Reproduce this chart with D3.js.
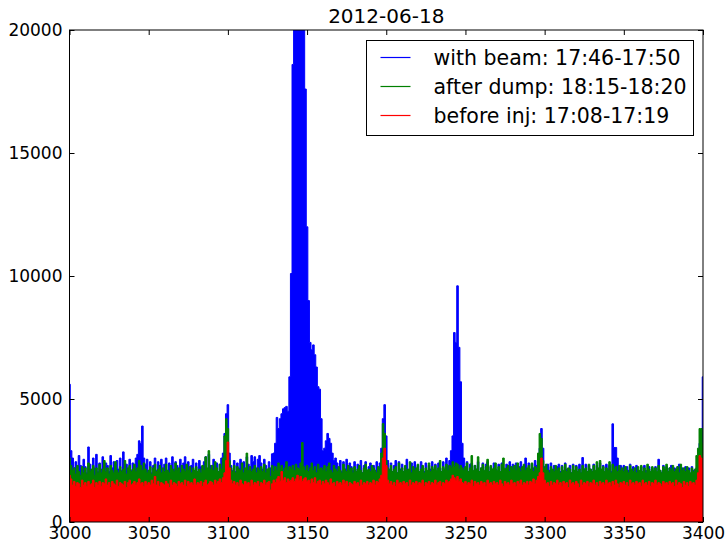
<!DOCTYPE html>
<html>
<head>
<meta charset="utf-8">
<script src="https://cdn.jsdelivr.net/npm/d3@7"></script>
<style>
    body { margin: 0; background: #fff; }
    svg { display: block; font-family: 'DejaVu Sans', sans-serif; }
</style>
</head>
<body>
<div id="chart"></div>
<script>
// channel range shown on the x axis
const xStart = 3000;
const xEnd = 3400;

const xTicks = [3000, 3050, 3100, 3150, 3200, 3250, 3300, 3350, 3400];
const yTicks = [0, 5000, 10000, 15000, 20000];

const seriesNames = ['with beam: 17:46-17:50', 'after dump: 18:15-18:20', 'before inj: 17:08-17:19'];
const seriesColors = ['#0000ff', '#008000', '#ff0000'];

// counts per channel, 3000..3400
const withBeam = [
    5600, 2900, 2600, 2200, 2450, 2050, 2700, 2300, 2100, 2550,
    2250, 2000, 3050, 2350, 2100, 2600, 2200, 2750, 2050, 2400,
    2150, 2650, 2000, 2400, 2300, 2050, 2700, 2200, 2450, 2000,
    2500, 2150, 2600, 2100, 2850, 2050, 2350, 2200, 2550, 2100,
    2400, 2150, 2600, 2750, 3300, 3200, 3900, 2600, 2350, 2550,
    2100, 2450, 2000, 2300, 2600, 2100, 2450, 2050, 2550, 2000,
    2350, 2600, 2100, 2400, 2000, 2650, 2150, 2450, 2300, 2050,
    2550, 2100, 2400, 2650, 2150, 2450, 2000, 2300, 2550, 2100,
    2400, 2050, 2500, 2250, 2000, 2450, 2650, 2150, 2750, 2300,
    2200, 2550, 2100, 2400, 2050, 2350, 2600, 2800, 3600, 4400,
    4770, 2800, 2300, 2100, 2500, 2050, 2400, 2200, 2550, 2100,
    2450, 2050, 2650, 2350, 2100, 2700, 2450, 2650, 2200, 2550,
    2700, 2400, 2150, 2550, 2300, 2100, 2450, 2200, 2770, 2800,
    3200, 4250, 3800, 4200, 4400, 4600, 4650, 4700, 4500, 5900,
    10100, 18600, 25000, 30000, 35000, 32000, 30000, 28000, 26000, 17600,
    12000, 9000, 7300, 7000, 7200, 6800, 6300, 5500, 5400, 4200,
    2900, 3000, 3300, 3600, 3400, 3200, 2800, 2500, 2600, 2400,
    2200, 2500, 2050, 2450, 2150, 2550, 2000, 2400, 2250, 2100,
    2450, 2050, 2350, 2150, 2500, 2000, 2300, 2450, 2100, 2250,
    2400, 2050, 2300, 2100, 2450, 2200, 2400, 3000, 4200, 4770,
    3500, 2500, 2150, 2400, 2050, 2300, 2500, 2000, 2450, 2150,
    2350, 2050, 2250, 2550, 2100, 2000, 2400, 2150, 2450, 2050,
    2300, 2000, 2450, 2150, 2050, 2400, 2000, 2300, 2150, 2450,
    2050, 2350, 2000, 2400, 2200, 2050, 2450, 2150, 2600, 2300,
    2500, 2900, 3500, 7700, 7300, 9600, 7100, 5700, 3200, 2600,
    2150, 2450, 2050, 2350, 2400, 2000, 2300, 2150, 2450, 2050,
    2200, 2400, 2000, 2350, 2450, 2050, 2250, 2000, 2400, 2150,
    2050, 2350, 2000, 2400, 2200, 2050, 2350, 2000, 2450, 2150,
    2350, 2000, 2400, 2100, 2250, 2450, 2000, 2300, 2600, 2150,
    2400, 2100, 2350, 2200, 2500, 2300, 2700, 3000, 3800, 3000,
    2250, 2050, 2350, 2100, 2400, 2000, 2300, 2100, 2250, 2350,
    2050, 2300, 2000, 2400, 2150, 2050, 2300, 2000, 2350, 2100,
    2300, 2050, 2350, 2000, 2620, 2150, 2350, 2050, 2300, 2150,
    2050, 2350, 2000, 2300, 2150, 2400, 2050, 2300, 2000, 2350,
    2150, 2300, 2050, 3990, 3030, 3030, 2600, 2150, 2300, 2050,
    2300, 2000, 2250, 2100, 2350, 2000, 2250, 1950, 2300, 2100,
    2000, 2250, 1950, 2300, 2100, 2000, 2250, 1950, 2200, 2050,
    2250, 2000, 2550, 2100, 2000, 2300, 1950, 2250, 2050, 2200,
    2300, 2000, 2200, 1950, 2250, 2350, 2050, 2200, 1950, 2250,
    2050, 2200, 1950, 2250, 2100, 2000, 2200, 2300, 3200, 3700,
    5900
];

const afterDump = [
    2600, 2300, 2100, 2200, 1950, 2300, 2050, 1900, 2250, 2000,
    2200, 1950, 2400, 2050, 2150, 2300, 1900, 2200, 2000, 2350,
    2000, 2150, 2500, 2050, 2200, 1950, 2300, 2100, 2000, 2450,
    2100, 2000, 2250, 2050, 2150, 2500, 1950, 2200, 2300, 2050,
    2150, 2350, 2050, 2200, 2500, 2300, 2100, 2400, 2150, 2000,
    2100, 2250, 1950, 2200, 2350, 2050, 2150, 2300, 2000, 2200,
    2050, 2350, 2100, 2000, 2300, 2150, 2050, 2400, 2100, 2200,
    2000, 2300, 2150, 2050, 2350, 2100, 2250, 2000, 2200, 2100,
    2250, 2050, 2150, 2000, 2300, 2100, 2650, 2200, 2900, 2150,
    2300, 2100, 2450, 2200, 2050, 2350, 2150, 2600, 3500, 4200,
    3800, 2500, 2200, 2050, 2300, 2000, 2250, 2150, 2100, 2400,
    2000, 2200, 2800, 2100, 2250, 2050, 2150, 2300, 2000, 2200,
    2100, 2250, 2050, 2350, 2000, 2150, 2200, 1850, 2300, 2050,
    2250, 2100, 2400, 2150, 2300, 2050, 2200, 2450, 2100, 2250,
    2150, 2300, 2100, 2350, 2200, 2150, 2400, 3230, 2250, 2100,
    2300, 2050, 2200, 2400, 2100, 2250, 2000, 2350, 2150, 2200,
    2100, 2300, 2050, 2250, 2400, 2100, 2000, 2300, 2150, 2050,
    2250, 2100, 2000, 2350, 2150, 2050, 2300, 2100, 2200, 2000,
    2250, 2050, 2150, 2300, 2100, 2000, 2200, 2350, 2100, 2150,
    2050, 2300, 2200, 2100, 2000, 2250, 2150, 2800, 4000, 3600,
    2500, 2200, 2100, 2300, 2050, 2150, 2250, 2000, 2400, 2100,
    2200, 2050, 2300, 2100, 2150, 2450, 2000, 2250, 2100, 2200,
    2350, 2050, 2150, 2300, 2000, 2200, 2100, 2400, 2050, 2250,
    2150, 2300, 2100, 2200, 2500, 2050, 2250, 2150, 2350, 2100,
    2300, 2200, 2450, 2250, 2400, 2350, 2150, 2300, 2200, 2100,
    2250, 2400, 2050, 2200, 2700, 2100, 2300, 2150, 2650, 2050,
    2200, 2350, 2100, 2250, 2550, 2050, 2300, 2150, 2200, 2400,
    2100, 2250, 2050, 2350, 2600, 2150, 2200, 2300, 2050, 2250,
    2150, 2300, 2100, 2400, 2200, 2050, 2250, 2350, 2100, 2200,
    2300, 2150, 2400, 2050, 2250, 2200, 2800, 3600, 3400, 2500,
    2200, 2350, 2100, 2000, 2250, 2150, 2050, 2300, 2100, 2200,
    2000, 2250, 2100, 2350, 2050, 2200, 2150, 2000, 2300, 2100,
    2250, 2050, 2150, 2000, 2300, 2100, 2200, 2050, 2350, 2150,
    2050, 2300, 2100, 2450, 2200, 2500, 2150, 2250, 2050, 2200,
    2100, 2450, 2000, 2350, 2150, 2250, 2050, 2300, 2100, 2200,
    2050, 2250, 2100, 2000, 2300, 2150, 2050, 2200, 2000, 2250,
    2100, 2300, 2050, 2200, 2000, 2350, 2150, 2050, 2250, 2100,
    2200, 2050, 2300, 2100, 2000, 2250, 2150, 2350, 2050, 2200,
    2100, 2300, 2050, 2150, 2250, 2000, 2350, 2100, 2200, 2050,
    2250, 2100, 2000, 2200, 2050, 2150, 2700, 3000, 3800, 3800,
    3200
];

const beforeInj = [
    1900, 1750, 1500, 1650, 1450, 1600, 1550, 1400, 1700, 1500,
    1600, 1450, 1650, 1500, 1550, 1700, 1400, 1600, 1500, 1650,
    1450, 1600, 1550, 1750, 1500, 1600, 1400, 1650, 1550, 1500,
    1700, 1450, 1600, 1550, 1500, 1650, 1400, 1600, 1700, 1500,
    1550, 1650, 1500, 1600, 1750, 1550, 1600, 1450, 1650, 1500,
    1600, 1500, 1700, 1550, 1850, 1500, 1650, 1450, 1600, 1550,
    1500, 1650, 1550, 1400, 1700, 1500, 1600, 1550, 1450, 1650,
    1550, 1600, 1500, 1700, 1450, 1650, 1550, 1600, 1500, 1750,
    1500, 1600, 1550, 1650, 1450, 1600, 1700, 1500, 1550, 1650,
    1600, 1500, 1700, 1550, 1650, 1750, 1600, 1800, 2000, 2500,
    3250, 2200, 1700, 1550, 1650, 1500, 1600, 1450, 1700, 1550,
    1500, 1650, 1550, 1600, 1450, 1700, 1500, 1600, 1550, 1650,
    1450, 1600, 1550, 1700, 1500, 1600, 1650, 1300, 1550, 1700,
    1600, 1750, 1850, 1650, 2050, 1700, 1800, 1600, 1750, 1650,
    1700, 1800, 1650, 1750, 1900, 1700, 1850, 1650, 1750, 1800,
    1650, 1700, 1550, 1750, 1600, 1800, 1550, 1650, 1700, 1500,
    1650, 1550, 1700, 1600, 1500, 1750, 1550, 1600, 1450, 1650,
    1550, 1600, 1500, 1700, 1550, 1650, 1450, 1600, 1550, 1500,
    1650, 1550, 1600, 1450, 1700, 1500, 1600, 1550, 1650, 1500,
    1600, 1550, 1700, 1500, 1650, 1600, 1750, 1900, 2600, 3000,
    2300, 1700, 1550, 1650, 1500, 1600, 1450, 1700, 1550, 1600,
    1500, 1650, 1550, 1600, 1450, 1700, 1500, 1600, 1550, 1650,
    1500, 1600, 1550, 1700, 1450, 1600, 1550, 1650, 1500, 1600,
    1550, 1700, 1500, 1600, 1650, 1450, 1600, 1550, 1700, 1600,
    1650, 1750, 1900, 1800, 1700, 1850, 1650, 1750, 1600, 1550,
    1650, 1500, 1600, 1550, 1700, 1450, 1650, 1550, 1600, 1500,
    1650, 1550, 1600, 1450, 1700, 1550, 1600, 1500, 1650, 1550,
    1600, 1500, 1700, 1550, 1450, 1650, 1550, 1600, 1500, 1700,
    1550, 1600, 1450, 1650, 1550, 1700, 1500, 1600, 1550, 1650,
    1500, 1650, 1600, 1750, 1550, 1700, 1850, 2000, 2600, 2000,
    1700, 1550, 1600, 1450, 1650, 1500, 1600, 1550, 1700, 1500,
    1600, 1450, 1650, 1550, 1600, 1400, 1700, 1550, 1600, 1500,
    1650, 1550, 1400, 1700, 1500, 1600, 1550, 1650, 1450, 1600,
    1550, 1700, 1500, 1600, 1450, 1650, 1550, 1600, 1500, 1700,
    1550, 1600, 1450, 1650, 1500, 1700, 1550, 1400, 1600, 1550,
    1650, 1500, 1600, 1450, 1700, 1550, 1600, 1500, 1650, 1550,
    1600, 1450, 1700, 1550, 1600, 1500, 1650, 1450, 1600, 1550,
    1700, 1500, 1600, 1550, 1450, 1650, 1550, 1600, 1500, 1650,
    1550, 1600, 1450, 1700, 1500, 1600, 1550, 1400, 1650, 1500,
    1600, 1450, 1650, 1550, 1600, 1500, 1700, 2000, 2700, 2600,
    2200
];

const w = 725;
const h = 542;
const plotLeft = 69.5, plotRight = 703, plotTop = 30, plotBottom = 522;

const xScale = d3.scaleLinear().domain([xStart, xEnd]).range([plotLeft, plotRight]);
const yScale = d3.scaleLinear().domain([0, 20000]).range([plotBottom, plotTop]);

const svg = d3.select('#chart')
    .append('svg')
    .attr('width', w)
    .attr('height', h);

svg.append('defs').append('clipPath')
    .attr('id', 'plot-clip')
    .append('rect')
    .attr('x', plotLeft)
    .attr('y', plotTop)
    .attr('width', plotRight - plotLeft)
    .attr('height', plotBottom - plotTop);

const plot = svg.append('g').attr('clip-path', 'url(#plot-clip)');

const area = d3.area()
    .curve(d3.curveStep)
    .x((d, i) => xScale(xStart + i))
    .y0(yScale(0))
    .y1(d => yScale(d));

const line = d3.line()
    .curve(d3.curveStep)
    .x((d, i) => xScale(xStart + i))
    .y(d => yScale(d));

[withBeam, afterDump, beforeInj].forEach((values, k) => {
    plot.append('path')
        .datum(values)
        .attr('d', area)
        .attr('fill', seriesColors[k]);
    plot.append('path')
        .datum(values)
        .attr('d', line)
        .attr('fill', 'none')
        .attr('stroke', seriesColors[k])
        .attr('stroke-width', 1);
});

// axes, ticks point inwards on all four sides
const xAxis = d3.axisBottom(xScale).tickValues(xTicks).tickFormat(d3.format('d'))
    .tickSize(-5).tickSizeOuter(0).tickPadding(5);
const yAxis = d3.axisLeft(yScale).tickValues(yTicks).tickFormat(d3.format('d'))
    .tickSize(-5).tickSizeOuter(0).tickPadding(7);

svg.append('g')
    .attr('id', 'x-axis')
    .attr('transform', 'translate(0,' + plotBottom + ')')
    .call(xAxis);

svg.append('g')
    .attr('id', 'y-axis')
    .attr('transform', 'translate(' + plotLeft + ',0)')
    .call(yAxis);

svg.append('g')
    .attr('transform', 'translate(0,' + plotTop + ')')
    .call(d3.axisTop(xScale).tickValues(xTicks).tickSize(-5).tickSizeOuter(0).tickFormat(''));

svg.append('g')
    .attr('transform', 'translate(' + plotRight + ',0)')
    .call(d3.axisRight(yScale).tickValues(yTicks).tickSize(-5).tickSizeOuter(0).tickFormat(''));

svg.selectAll('.domain').remove();
svg.selectAll('.tick line').attr('stroke', '#000');
svg.selectAll('.tick text')
    .attr('font-size', 17)
    .attr('font-family', 'DejaVu Sans, sans-serif')
    .attr('fill', '#000');

svg.append('rect')
    .attr('x', plotLeft)
    .attr('y', plotTop)
    .attr('width', plotRight - plotLeft)
    .attr('height', plotBottom - plotTop)
    .attr('fill', 'none')
    .attr('stroke', '#000')
    .attr('stroke-width', 1);

svg.append('text')
    .attr('x', (plotLeft + plotRight) / 2)
    .attr('y', 23)
    .attr('text-anchor', 'middle')
    .attr('font-size', 20)
    .text('2012-06-18');

// legend
const legend = svg.append('g').attr('transform', 'translate(366.5,40.5)');
legend.append('rect')
    .attr('width', 327)
    .attr('height', 95)
    .attr('fill', '#fff')
    .attr('stroke', '#000')
    .attr('stroke-width', 1);

seriesNames.forEach((name, k) => {
    const yy = 17 + k * 29;
    legend.append('line')
        .attr('x1', 14).attr('x2', 44)
        .attr('y1', yy).attr('y2', yy)
        .attr('stroke', seriesColors[k])
        .attr('stroke-width', 1.2);
    legend.append('text')
        .attr('x', 67)
        .attr('y', yy + 7)
        .attr('font-size', 20.5)
        .text(name);
});
</script>
</body>
</html>
